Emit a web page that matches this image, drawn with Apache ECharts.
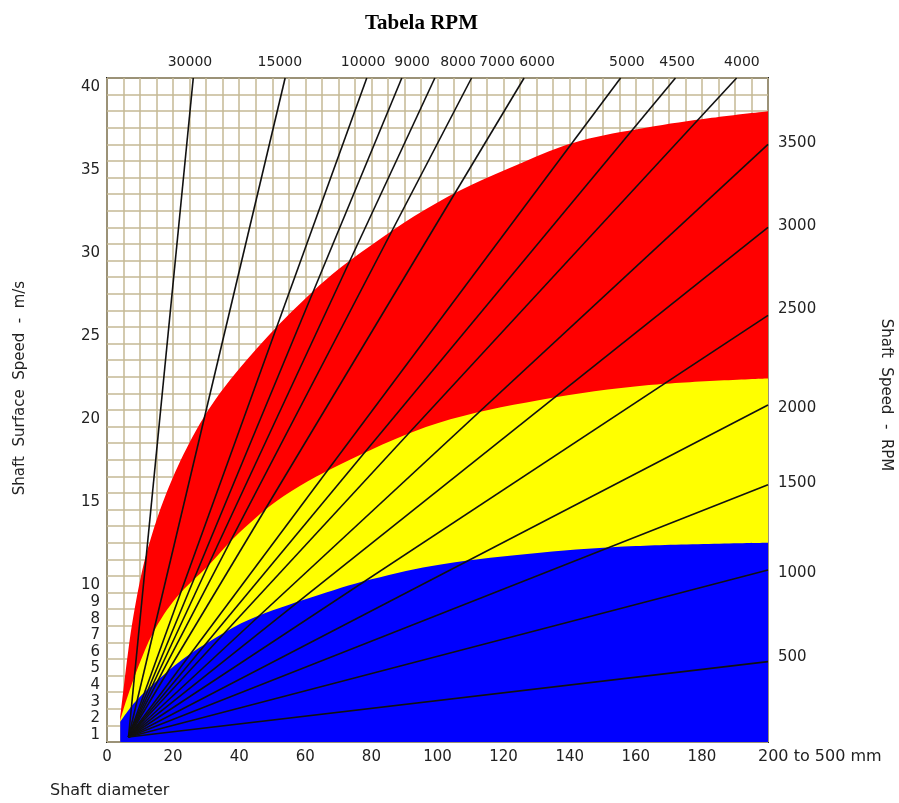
<!DOCTYPE html>
<html>
<head>
<meta charset="utf-8">
<script src="https://cdn.jsdelivr.net/npm/echarts@6/dist/echarts.min.js"></script>
<style>
html,body{margin:0;padding:0;background:#fff;}
#chart{width:899px;height:803px;}
</style>
</head>
<body>
<div id="chart"></div>
<script>
// ---- data ----
const diameterMax = 200;
const speedMax = 40;
const bottomTickLabels = [0, 20, 40, 60, 80, 100, 120, 140, 160, 180];
const leftTickLabels = [1, 2, 3, 4, 5, 6, 7, 8, 9, 10, 15, 20, 25, 30, 35, 40];

// RPM lines ending at the top edge (speed = 40): diameter at which they leave the plot
const topRpm = [30000, 15000, 10000, 9000, 8000, 7000, 6000, 5000, 4500, 4000];
const topEndDiameter = [26.1, 53.9, 78.6, 89.2, 99.2, 110.3, 126.2, 155.4, 172, 190.5];
const topLabelDiameter = [25.1, 52.3, 77.5, 92.3, 106.2, 118.0, 130.1, 157.3, 172.5, 192.1];

// RPM lines ending at the right edge (diameter = 200): speed at the edge
const rightRpm = [3500, 3000, 2500, 2000, 1500, 1000, 500];
const rightEndSpeed = [36.0, 31.0, 25.7, 20.3, 15.5, 10.36, 4.84];
const rightLabelSpeed = [36.1, 31.1, 26.1, 20.1, 15.6, 10.2, 5.1];

// common start point of the RPM lines
const lineStart = [6.5, 0.3];

// material zones: upper boundary [diameter, speed]
const silFkmBoundary = [[4,1.5],[5,3.2],[6.5,5.6],[8,7.6],[10.5,10.2],[13,12.1],[17.6,14.8],[24.1,17.7],[32.7,20.6],[45.3,23.7],[59.4,26.6],[73.5,29.0],[100,32.5],[128,35.1],[143,36.2],[163,37.0],[183,37.6],[200,38.0]];
const acmBoundary = [[4,1.3],[6,2.6],[9.4,4.5],[14,6.6],[21,8.7],[31,10.7],[40,12.6],[53.4,14.8],[73.5,17.0],[100,19.2],[131,20.6],[164,21.5],[200,21.9]];
const nbrBoundary = [[4,1.2],[8,2.3],[13,3.3],[23,5.0],[33,6.3],[43.3,7.4],[61.7,8.7],[80,9.8],[101,10.7],[131,11.4],[160,11.8],[200,12.0]];

const zoneNames = ['SiL & FKM', 'ACM', 'NBR'];

// ---- chart ----
const chart = echarts.init(document.getElementById('chart'), null, {renderer: 'canvas'});
const tickFont = 'DejaVu Sans';

const series = [];
function zone(name, data, color) {
  series.push({
    name: name, type: 'line', data: data, xAxisIndex: 0, yAxisIndex: 0,
    showSymbol: false, symbol: 'none', smooth: 0.35,
    lineStyle: {width: 0, color: color}, areaStyle: {color: color, opacity: 1, origin: 'start'},
    silent: true, z: 2
  });
}
zone(zoneNames[0], silFkmBoundary, '#ff0000');
zone(zoneNames[1], acmBoundary, '#ffff00');
zone(zoneNames[2], nbrBoundary, '#0000ff');

topRpm.forEach(function (rpm, i) {
  series.push({
    name: String(rpm), type: 'line', xAxisIndex: 0, yAxisIndex: 0,
    data: [lineStart, [topEndDiameter[i], speedMax]],
    showSymbol: false, symbol: 'none', silent: true, z: 3,
    lineStyle: {width: 1.6, color: '#111'}
  });
});
rightRpm.forEach(function (rpm, i) {
  series.push({
    name: String(rpm), type: 'line', xAxisIndex: 0, yAxisIndex: 0,
    data: [lineStart, [diameterMax, rightEndSpeed[i]]],
    showSymbol: false, symbol: 'none', silent: true, z: 3,
    lineStyle: {width: 1.6, color: '#111'}
  });
});

const gridLineStyle = {color: '#c4b994', width: 1.5};

const option = {
  backgroundColor: '#fff',
  animation: false,
  title: {
    text: 'Tabela RPM', left: 360, top: 8,
    textStyle: {fontFamily: 'Liberation Serif', fontWeight: 'bold', fontSize: 21, color: '#000'}
  },
  grid: {left: 107, right: 131, top: 78, bottom: 61, show: true, backgroundColor: '#fff', borderColor: '#222', borderWidth: 2},
  xAxis: [{
    type: 'value', min: 0, max: diameterMax, interval: 5, position: 'bottom',
    axisLine: {show: false}, axisTick: {show: false},
    splitLine: {show: true, lineStyle: gridLineStyle},
    axisLabel: {
      margin: 8, fontFamily: tickFont, fontSize: 15, color: '#222',
      formatter: function (v) { return bottomTickLabels.indexOf(v) >= 0 ? String(v) : ''; }
    }
  }, {
    type: 'value', min: 0, max: diameterMax, position: 'top',
    axisLine: {show: false}, axisTick: {show: false}, splitLine: {show: false},
    axisLabel: {
      margin: 9, fontFamily: tickFont, fontSize: 14, color: '#222',
      customValues: topLabelDiameter,
      formatter: function (v) { const i = topLabelDiameter.indexOf(v); return i >= 0 ? String(topRpm[i]) : ''; }
    }
  }],
  yAxis: [{
    type: 'value', min: 0, max: speedMax, interval: 1, position: 'left',
    axisLine: {show: false}, axisTick: {show: false},
    splitLine: {show: true, lineStyle: gridLineStyle},
    axisLabel: {
      margin: 7, fontFamily: tickFont, fontSize: 15, color: '#222', verticalAlign: 'top', padding: [2, 0, 0, 0],
      formatter: function (v) { return leftTickLabels.indexOf(v) >= 0 ? String(v) : ''; }
    }
  }, {
    type: 'value', min: 0, max: speedMax, position: 'right',
    axisLine: {show: false}, axisTick: {show: false}, splitLine: {show: false},
    axisLabel: {
      margin: 10, fontFamily: tickFont, fontSize: 15, color: '#222',
      customValues: rightLabelSpeed,
      formatter: function (v) { const i = rightLabelSpeed.indexOf(v); return i >= 0 ? String(rightRpm[i]) : ''; }
    }
  }],
  series: series,
  graphic: [
    {type: 'text', x: 20, y: 388, rotation: Math.PI / 2,
     style: {text: 'Shaft  Surface  Speed  -  m/s', fontFamily: tickFont, fontSize: 15, fill: '#222', align: 'center', verticalAlign: 'middle'}},
    {type: 'text', x: 886, y: 395, rotation: -Math.PI / 2,
     style: {text: 'Shaft  Speed  -  RPM', fontFamily: tickFont, fontSize: 15, fill: '#222', align: 'center', verticalAlign: 'middle'}},
    {type: 'text', x: 50, y: 791,
     style: {text: 'Shaft diameter', fontFamily: tickFont, fontSize: 16, fill: '#222', align: 'left', verticalAlign: 'middle'}},
    {type: 'text', x: 758, y: 757,
     style: {text: '200 to 500 mm', fontFamily: tickFont, fontSize: 16, fill: '#222', align: 'left', verticalAlign: 'middle'}},
    {type: 'group', x: 566, y: 163, z: 100, children: [
      {type: 'rect', shape: {x: 0, y: 0, width: 167, height: 35}, style: {fill: '#fff', stroke: '#111', lineWidth: 2}},
      {type: 'text', x: 83.5, y: 18, style: {text: zoneNames[0], fontFamily: 'DejaVu Sans', fontWeight: 'bold', fontSize: 26, fill: '#111', align: 'center', verticalAlign: 'middle'}}
    ]},
    {type: 'group', x: 566, y: 415, z: 100, children: [
      {type: 'rect', shape: {x: 0, y: 0, width: 166, height: 36}, style: {fill: '#fff', stroke: '#111', lineWidth: 2}},
      {type: 'text', x: 83, y: 18.5, style: {text: zoneNames[1], fontFamily: 'DejaVu Sans', fontWeight: 'bold', fontSize: 26, fill: '#111', align: 'center', verticalAlign: 'middle'}}
    ]},
    {type: 'group', x: 566, y: 573, z: 100, children: [
      {type: 'rect', shape: {x: 0, y: 0, width: 166, height: 36}, style: {fill: '#fff', stroke: '#111', lineWidth: 2}},
      {type: 'text', x: 83, y: 18.5, style: {text: zoneNames[2], fontFamily: 'DejaVu Sans', fontWeight: 'bold', fontSize: 26, fill: '#111', align: 'center', verticalAlign: 'middle'}}
    ]}
  ]
};
chart.setOption(option);
</script>
</body>
</html>
